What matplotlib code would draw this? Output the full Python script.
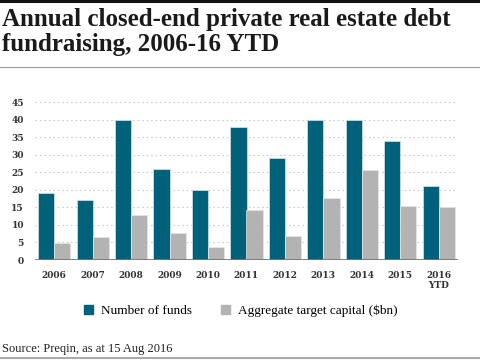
import matplotlib.pyplot as plt
import numpy as np
from matplotlib.lines import Line2D
from matplotlib.patches import Patch

years = ['2006', '2007', '2008', '2009', '2010', '2011', '2012', '2013',
         '2014', '2015', '2016\nYTD']
num_funds = [19, 17, 40, 26, 20, 38, 29, 40, 40, 34, 21]
target_capital = [4.7, 6.5, 12.7, 7.6, 3.8, 14.2, 6.8, 17.8, 25.5, 15.4, 15.1]

teal = '#00627a'
grey = '#b3b3b3'
serif = ['Liberation Serif', 'DejaVu Serif']
tickfont = ['DejaVu Serif']

W, H = 480, 362
fig = plt.figure(figsize=(W / 100, H / 100), dpi=100)

# title and rules
fig.text(2 / W, 1 - 8 / H, 'Annual closed-end private real estate debt\nfundraising, 2006-16 YTD',
         ha='left', va='top', fontsize=18, fontweight='bold', family=serif,
         color='#1a1a1a', linespacing=1.12)
fig.add_artist(Line2D([0, 1], [1 - 1 / H, 1 - 1 / H], color='#111111', lw=2.2))
fig.add_artist(Line2D([0, 1], [1 - 67 / H, 1 - 67 / H], color='#999999', lw=0.8))
fig.add_artist(Line2D([0, 1], [1 - 358 / H, 1 - 358 / H], color='#aaaaaa', lw=1.5))

ax = fig.add_axes([35 / W, 102 / H, 423 / W, 158 / H])
x = np.arange(len(years))
w = 0.42
ax.bar(x - w / 2, num_funds, w, color=teal, edgecolor='#d8e6ea', linewidth=0.5,
       label='Number of funds', zorder=3)
ax.bar(x + w / 2, target_capital, w, color=grey, edgecolor='#e6e6e6', linewidth=0.5,
       label='Aggregate target capital ($bn)', zorder=3)

ax.set_xlim(-0.5, len(years) - 0.5)
ax.set_ylim(0, 45)
ax.set_yticks(range(0, 46, 5))
ax.set_xticks(x)
ax.set_xticklabels(years, family=tickfont, fontsize=6.5, fontweight='bold',
                   color='#333333', linespacing=1.1)
for lab in ax.get_yticklabels():
    lab.set_family(tickfont)
    lab.set_fontsize(6.5)
    lab.set_fontweight('bold')
    lab.set_color('#333333')
ax.tick_params(length=0)
ax.tick_params(axis='x', pad=8)
ax.tick_params(axis='y', pad=8)
ax.yaxis.grid(True, linestyle=(0, (1.5, 2.5)), color='#cccccc', lw=0.8, zorder=0)
for s in ax.spines.values():
    s.set_visible(False)
ax.axhline(0, color='#777777', lw=2, zorder=4)

handles = [Patch(color=teal), Patch(color=grey)]
fig.legend(handles, ['Number of funds', 'Aggregate target capital ($bn)'],
           loc='center', bbox_to_anchor=(0.502, 1 - 311 / H), ncol=2, frameon=False,
           prop={'family': serif, 'size': 9.5}, handlelength=0.7, handleheight=0.7,
           handletextpad=0.6, columnspacing=2.2)

fig.text(2 / W, 1 - 349 / H, 'Source: Preqin, as at 15 Aug 2016', ha='left', va='center',
         fontsize=9, family=serif, color='#222222')

fig.savefig('out.png', dpi=100)
